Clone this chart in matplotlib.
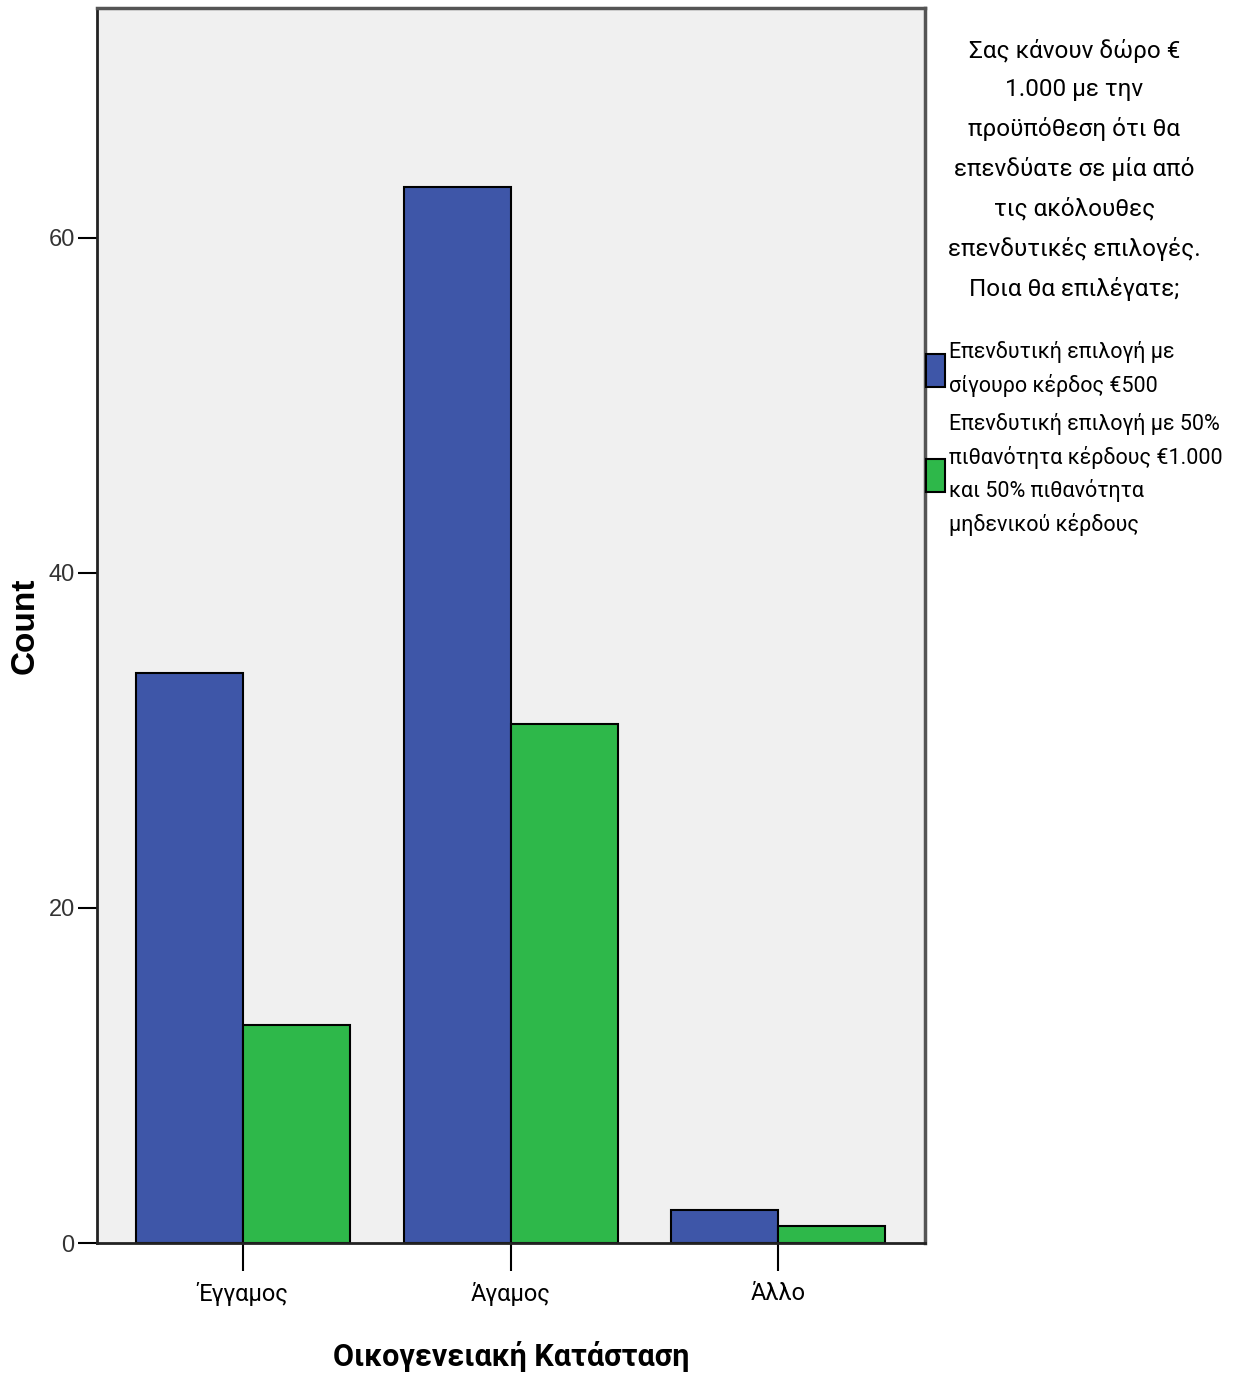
import matplotlib.pyplot as plt
import numpy as np
from matplotlib.patches import Patch
from matplotlib.font_manager import FontProperties

kategorie = ['Έγγαμος', 'Άγαμος', 'Άλλο']
pewny = [34, 63, 2]
ryzyko = [13, 31, 1]
etykiety = ['Επενδυτική επιλογή με\nσίγουρο κέρδος €500',
            'Επενδυτική επιλογή με 50%\nπιθανότητα κέρδους €1.000\nκαι 50% πιθανότητα\nμηδενικού κέρδους']
tytulLegendy = ('Σας κάνουν δώρο €\n1.000 με την\nπροϋπόθεση ότι θα\nεπενδύατε σε μία από\n'
                'τις ακόλουθες\nεπενδυτικές επιλογές.\nΠοια θα επιλέγατε;')
yTicks = [0, 20, 40, 60]

waski = ['Roboto', 'DejaVu Sans']
niebieski = '#3E56A8'
zielony = '#2EB84A'

fig = plt.figure(figsize=(12.46, 13.83), dpi=100)
ax = fig.add_axes([0.0778, 0.1012, 0.7426 - 0.0778, 0.9942 - 0.1012])
ax.set_facecolor('#F0F0F0')

x = np.arange(len(kategorie))
w = 0.4
ax.bar(x - w / 2, pewny, w, color=niebieski, edgecolor='black', linewidth=1.5)
ax.bar(x + w / 2, ryzyko, w, color=zielony, edgecolor='black', linewidth=1.5)

ax.set_xlim(-0.546, 2.55)
ax.set_ylim(0, 73.7)
ax.set_yticks(yTicks)
ax.set_yticklabels([str(t) for t in yTicks],
                   fontproperties=FontProperties(family=['Liberation Sans', 'DejaVu Sans'], size=17))
for t in ax.get_yticklabels():
    t.set_color('#333333')
ax.set_xticks(x)
ax.set_xticklabels(kategorie, fontproperties=FontProperties(family=waski, size=17))
ax.tick_params(axis='y', length=14, width=1.5, pad=2)
ax.tick_params(axis='x', length=20, width=1.5, pad=8)

for s in ['left', 'bottom']:
    ax.spines[s].set_linewidth(2)
    ax.spines[s].set_color('#222222')
for s in ['top', 'right']:
    ax.spines[s].set_linewidth(2.5)
    ax.spines[s].set_color('#555555')

ax.set_ylabel('Count', fontproperties=FontProperties(family=['Liberation Sans', 'DejaVu Sans'],
                                                      weight='bold', size=24))
ax.yaxis.set_label_coords(-0.068, 0.5)
ax.set_xlabel('Οικογενειακή Κατάσταση', fontproperties=FontProperties(family=waski, weight='bold', size=22))
ax.xaxis.set_label_coords(0.5, -0.079)

uchwyty = [Patch(facecolor=niebieski, edgecolor='black', linewidth=1.5),
           Patch(facecolor=zielony, edgecolor='black', linewidth=1.5)]
leg = ax.legend(uchwyty, etykiety, loc='upper left', bbox_to_anchor=(0.99, 0.982),
                frameon=False, title=tytulLegendy, handlelength=0.9, handleheight=2.0,
                handletextpad=0.2, borderaxespad=0, labelspacing=0.72,
                prop=FontProperties(family=waski, size=15.5),
                title_fontproperties=FontProperties(family=waski, size=17.5))
leg._legend_box.align = 'center'
leg._legend_box.sep = 29
leg.get_title().set_multialignment('center')
leg.get_title().set_linespacing(1.85)
for t in leg.get_texts():
    t.set_linespacing(1.6)

fig.savefig('out.png', dpi=100)
